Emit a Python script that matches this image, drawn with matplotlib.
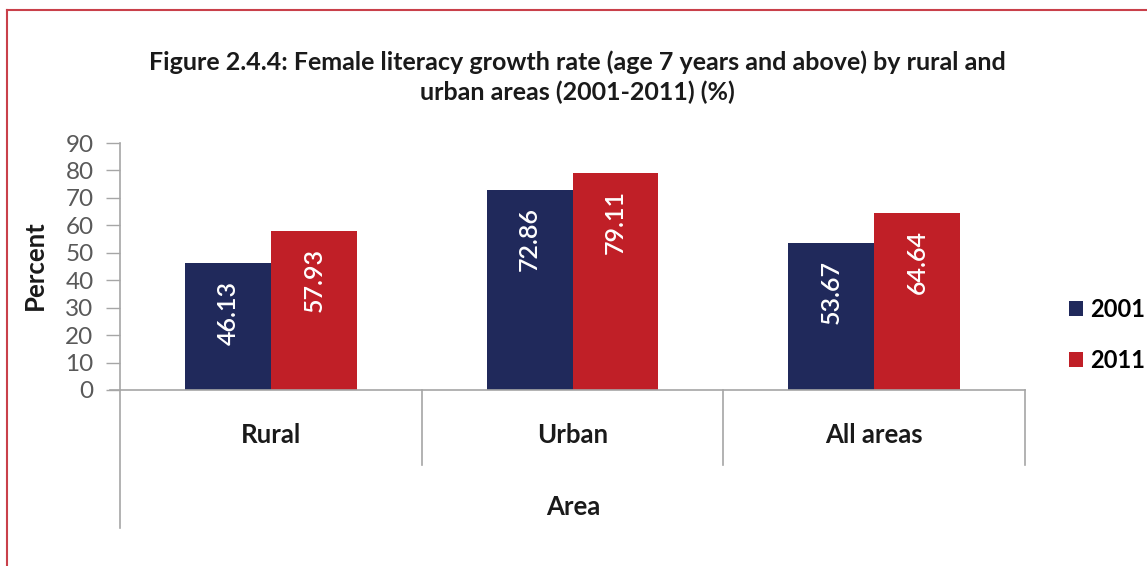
import matplotlib
matplotlib.use("Agg")
import matplotlib.pyplot as plt
from matplotlib.lines import Line2D
import numpy as np

categories = ["Rural", "Urban", "All areas"]
series_names = ["2001", "2011"]
values_2001 = [46.13, 72.86, 53.67]
values_2011 = [57.93, 79.11, 64.64]
yticks = [0, 10, 20, 30, 40, 50, 60, 70, 80, 90]
title = "Figure 2.4.4: Female literacy growth rate (age 7 years and above) by rural and\nurban areas (2001-2011) (%)"

FONT = "Lato"
plt.rcParams["font.family"] = [FONT, "DejaVu Sans"]

W, H = 1147, 566
fig = plt.figure(figsize=(W / 100, H / 100), dpi=100)
fig.patch.set_facecolor("white")

# red frame on left and top
fig.add_artist(Line2D([7 / W, 7 / W], [0, 1 - 10 / H], color="#c9404a", lw=1.5))
fig.add_artist(Line2D([7 / W, 1], [1 - 10 / H, 1 - 10 / H], color="#c9404a", lw=1.5))

left, right, top, bottom = 120, 1025, 143, 390
ax = fig.add_axes([left / W, 1 - bottom / H, (right - left) / W, (bottom - top) / H])

navy = "#20295b"
red = "#c01f27"
x = np.arange(len(categories))
bw = 0.285
b1 = ax.bar(x - bw / 2, values_2001, bw, color=navy, label=series_names[0])
b2 = ax.bar(x + bw / 2, values_2011, bw, color=red, label=series_names[1])

for bars, vals in ((b1, values_2001), (b2, values_2011)):
    for rect, v in zip(bars, vals):
        ax.annotate(f"{v:.2f}", (rect.get_x() + rect.get_width() / 2, v),
                    xytext=(0, -12.5), textcoords="offset points",
                    rotation=90, ha="center", va="top", color="white",
                    fontsize=18, fontweight="semibold")

ax.set_xlim(-0.5, 2.5)
ax.set_ylim(0, 90)
ax.set_yticks(yticks)
ax.set_xticks(x)
ax.set_xticklabels(categories, fontsize=18.5, fontweight="bold", color="#1a1a1a")
ax.tick_params(axis="x", length=0, pad=24)
ax.tick_params(axis="y", length=10, width=1, color="#a6a6a6", labelcolor="#595959",
               labelsize=17.5, pad=9)

for s in ("top", "right"):
    ax.spines[s].set_visible(False)
for s in ("left", "bottom"):
    ax.spines[s].set_color("#a6a6a6")
    ax.spines[s].set_linewidth(1.2)

gray = "#a6a6a6"
# extended left axis line and category separators
ax.plot([-0.5, -0.5], [0, -(528 - 390) / (bottom - top) * 90], color=gray, lw=1.2, clip_on=False)
for sx in (0.5, 1.5, 2.5):
    ax.plot([sx, sx], [0, -(465 - 390) / (bottom - top) * 90], color=gray, lw=1.2, clip_on=False)
# extend x axis line leftwards (tick at zero)
ax.plot([-0.5 - 10 / 905 * 3, -0.5], [0, 0], color=gray, lw=1.2, clip_on=False)

fig.text(35 / W, 1 - 265 / H, "Percent", rotation=90, ha="center", va="center",
         fontsize=18.5, fontweight="bold", color="#1a1a1a")
fig.text(573 / W, 1 - 507 / H, "Area", ha="center", va="center",
         fontsize=18.5, fontweight="bold", color="#1a1a1a")

fig.text(577 / W, 1 - 77.5 / H, title, ha="center", va="center", fontsize=18,
         fontweight="bold", color="#1a1a1a", linespacing=1.33)

ax.legend(loc="center left", bbox_to_anchor=(1069 / W, 1 - 335 / H),
          bbox_transform=fig.transFigure, frameon=False,
          prop={"weight": "bold", "size": 17, "family": [FONT, "DejaVu Sans"]},
          handlelength=0.6, handleheight=0.6, handletextpad=0.3,
          labelspacing=1.2, borderpad=0, borderaxespad=0)

fig.savefig("out.png", dpi=100)
